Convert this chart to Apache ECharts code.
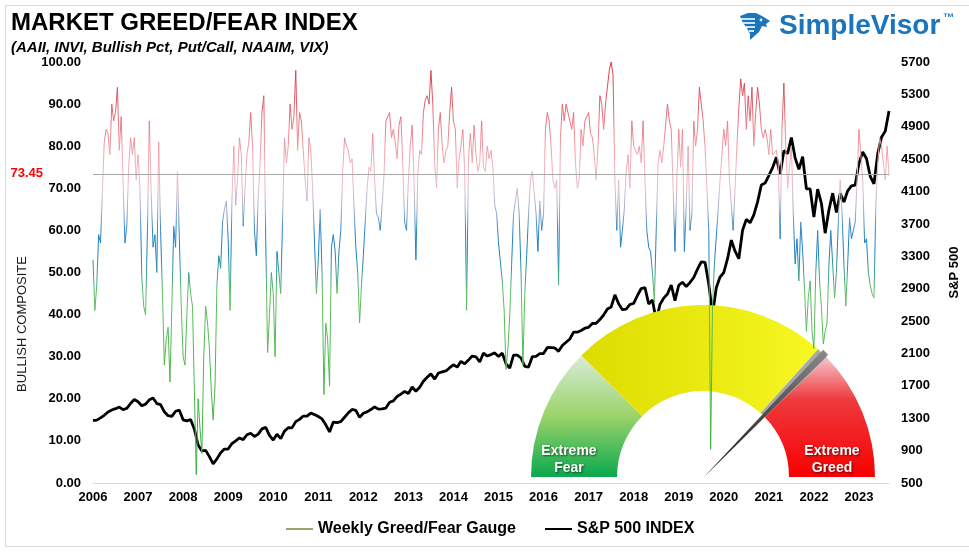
<!DOCTYPE html>
<html>
<head>
<meta charset="utf-8">
<title>Market Greed/Fear Index</title>
<script src="https://cdn.jsdelivr.net/npm/echarts@6/dist/echarts.min.js"></script>
<style>
  html, body { margin: 0; padding: 0; background: #fff; }
  #chart { width: 969px; height: 555px; }
</style>
</head>
<body>
<div id="chart"></div>
<script>
// x values are months counted from July 2006 (first reading), labels every 12 months
var yearLabels = ['2006', '2007', '2008', '2009', '2010', '2011', '2012', '2013', '2014',
  '2015', '2016', '2017', '2018', '2019', '2020', '2021', '2022', '2023']

// bullish composite, two readings per month from Jul 2006
var greedGauge = [
  53, 41, 47, 59, 57, 69, 81, 84, 83, 78, 90, 86,
  88, 94, 79, 87, 72, 57, 61, 75, 82, 78, 82, 72,
  78, 70, 49, 42, 40, 60, 86, 69, 56, 59, 50, 81,
  60, 45, 28, 34, 37, 24, 42, 61, 56, 74, 58, 42,
  30, 28, 40, 50, 45, 42, 22, 2, 20, 13, 7, 30,
  42, 38, 32, 22, 15, 23, 47, 54, 51, 62, 65, 67,
  58, 41, 67, 80, 66, 72, 82, 78, 61, 70, 78, 81,
  88, 80, 60, 54, 68, 76, 88, 92, 58, 31, 40, 50,
  45, 30, 55, 55, 45, 63, 82, 76, 80, 90, 84, 87,
  98, 79, 88, 86, 79, 72, 67, 82, 79, 70, 57, 45,
  53, 65, 50, 21, 38, 34, 23, 56, 59, 55, 45, 55,
  60, 74, 82, 80, 79, 76, 77, 66, 56, 50, 38, 47,
  54, 62, 70, 75, 74, 83, 72, 64, 63, 60, 66, 73,
  86, 86, 88, 82, 84, 81, 77, 85, 87, 76, 62, 60,
  72, 80, 85, 72, 53, 73, 79, 78, 88, 91, 92, 90,
  98, 90, 76, 70, 84, 88, 80, 76, 79, 80, 88, 94,
  86, 84, 70, 77, 80, 84, 74, 41, 77, 83, 76, 85,
  78, 74, 76, 86, 75, 74, 80, 77, 79, 75, 66, 64,
  57, 57, 48, 41, 27, 32, 40, 52, 64, 67, 70, 64,
  50, 28, 45, 54, 64, 72, 74, 69, 64, 55, 67, 60,
  64, 84, 88, 86, 80, 72, 70, 72, 47, 82, 90, 86,
  90, 88, 86, 84, 88, 76, 70, 72, 84, 80, 86, 86,
  88, 83, 82, 78, 72, 80, 92, 90, 84, 90, 90, 98,
  100, 97, 72, 60, 72, 56, 60, 65, 74, 78, 70, 86,
  80, 80, 78, 80, 76, 86, 72, 60, 56, 55, 50, 43,
  60, 76, 79, 76, 80, 80, 90, 86, 84, 70, 55, 72,
  84, 75, 84, 55, 66, 80, 60, 64, 86, 80, 84, 94,
  90, 86, 80, 70, 60, 8, 42, 52, 52, 65, 72, 78,
  84, 80, 86, 72, 66, 60, 70, 80, 89, 96, 92, 95,
  84, 92, 86, 94, 80, 88, 94, 90, 84, 82, 84, 82,
  78, 84, 78, 78, 79, 76, 58, 84, 95, 80, 70, 70,
  80, 64, 52, 58, 48, 62, 55, 46, 36, 44, 48, 36,
  32, 50, 60, 48, 42, 33, 36, 38, 52, 60, 52, 44,
  50, 62, 72, 64, 52, 42, 52, 63, 58, 60, 62, 72,
  84, 78, 72, 57, 58, 50, 47, 45, 44, 66, 76, 82,
  80, 80, 72, 80, 73
]

// S&P 500, one level per month from Jul 2006
var spx = [
  1270, 1277, 1304, 1336, 1378, 1401, 1418,
  1438, 1407, 1421, 1482, 1531, 1503, 1455, 1474, 1527, 1549, 1481, 1468,
  1379, 1331, 1323, 1386, 1400, 1280, 1267, 1283, 1165, 969, 896, 903,
  826, 735, 798, 873, 919, 919, 987, 1021, 1057, 1036, 1096, 1115,
  1074, 1104, 1169, 1187, 1089, 1031, 1102, 1049, 1141, 1183, 1181, 1258,
  1286, 1327, 1326, 1364, 1345, 1321, 1292, 1219, 1131, 1253, 1247, 1258,
  1312, 1366, 1408, 1398, 1310, 1362, 1379, 1407, 1441, 1412, 1416, 1426,
  1498, 1515, 1569, 1598, 1631, 1606, 1686, 1633, 1682, 1757, 1806, 1848,
  1783, 1859, 1872, 1884, 1924, 1960, 1931, 2003, 1972, 2018, 2068, 2059,
  1995, 2105, 2068, 2086, 2107, 2063, 2104, 1972, 1920, 2079, 2080, 2044,
  1940, 1932, 2060, 2065, 2097, 2099, 2174, 2171, 2168, 2126, 2199, 2239,
  2279, 2364, 2363, 2384, 2412, 2423, 2470, 2472, 2519, 2575, 2648, 2674,
  2824, 2714, 2641, 2648, 2705, 2718, 2816, 2902, 2914, 2712, 2760, 2507,
  2704, 2784, 2834, 2946, 2752, 2942, 2980, 2926, 2977, 3038, 3141, 3231,
  3226, 2954, 2585, 2912, 3044, 3100, 3271, 3500, 3363, 3270, 3622, 3756,
  3714, 3811, 3973, 4181, 4204, 4298, 4395, 4523, 4308, 4605, 4567, 4766,
  4516, 4374, 4530, 4132, 4132, 3785, 4130, 3955, 3586, 3872, 4080, 3840,
  4077, 3970, 4109, 4169, 4180, 4450, 4589, 4508, 4288, 4194, 4568, 4770,
  4846, 5096
]

var latestReading = 73.45

var FONT = 'Arial, "Liberation Sans", sans-serif'

function toPairs(values, step) {
  return values.map(function (v, i) {
    return [i * step, v]
  })
}

// gauge picture in the lower right corner
var gx = 703
var gy = 477
var rIn = 86
var rOut = 172
var deg = Math.PI / 180
var needleAngle = 45.5 * deg

function needlePoints() {
  var dx = Math.cos(needleAngle)
  var dy = -Math.sin(needleAngle)
  var len = rOut + 3
  var ex = gx + dx * len
  var ey = gy + dy * len
  var px = -dy * 3.5
  var py = dx * 3.5
  return [[gx, gy + 1], [ex + px, ey + py], [ex - px, ey - py]]
}

function logoStripe(x1, y1, x2, y2) {
  return { type: 'line', shape: { x1: x1, y1: y1, x2: x2, y2: y2 }, style: { stroke: '#fff', lineWidth: 1.6 } }
}

var chart = echarts.init(document.getElementById('chart'))
chart.setOption({
  animation: false,
  backgroundColor: '#fff',
  title: {
    text: 'MARKET GREED/FEAR INDEX',
    subtext: '(AAII, INVI, Bullish Pct, Put/Call, NAAIM, VIX)',
    left: 6,
    top: 5,
    itemGap: 3,
    textStyle: { fontFamily: FONT, fontSize: 24, fontWeight: 'bold', color: '#000', lineHeight: 26 },
    subtextStyle: { fontFamily: FONT, fontSize: 15, fontWeight: 'bold', fontStyle: 'italic', color: '#000', lineHeight: 17 }
  },
  legend: {
    left: 281,
    top: 516,
    itemWidth: 27,
    itemHeight: 2,
    itemGap: 29,
    icon: 'rect',
    selectedMode: false,
    textStyle: { fontFamily: FONT, fontSize: 16, fontWeight: 'bold', color: '#000' },
    data: [
      { name: 'Weekly Greed/Fear Gauge', itemStyle: { color: '#a0a070' } },
      { name: 'S&P 500 INDEX', itemStyle: { color: '#000' } }
    ]
  },
  grid: {
    left: 93,
    right: 73,
    top: 62,
    bottom: 72
  },
  visualMap: {
    type: 'continuous',
    show: false,
    seriesIndex: 0,
    dimension: 1,
    min: 0,
    max: 100,
    inRange: {
      color: ['#3cb043', '#3cb043', '#40b246', '#44b448', '#48b64a', '#4cb84c', '#50b850',
        '#56ba56', '#5cbc5a', '#62be64', '#3aa08a', '#1a7fc4', '#2d86c6', '#9eaed0',
        '#e6bcc6', '#f4b2ba', '#f09aa2', '#ea7c86', '#e2606c', '#dc4a58', '#d83a4a']
    }
  },
  xAxis: {
    type: 'value',
    min: 0,
    max: 212,
    interval: 12,
    axisLine: { lineStyle: { color: '#d9d9d9', width: 1 } },
    axisTick: { show: false },
    splitLine: { show: false },
    axisLabel: {
      showMaxLabel: false,
      margin: 8,
      fontFamily: FONT,
      fontSize: 13,
      fontWeight: 'bold',
      color: '#000',
      formatter: function (v) {
        return v % 12 === 0 ? yearLabels[v / 12] : ''
      }
    }
  },
  yAxis: [
    {
      type: 'value',
      min: 0,
      max: 100,
      interval: 10,
      axisLine: { show: false },
      axisTick: { show: false },
      splitLine: { show: false },
      axisLabel: {
        margin: 12,
        fontFamily: FONT,
        fontSize: 13,
        fontWeight: 'bold',
        color: '#000',
        formatter: function (v) {
          return v.toFixed(2)
        }
      }
    },
    {
      type: 'value',
      min: 500,
      max: 5700,
      interval: 400,
      position: 'right',
      name: 'S&P 500',
      nameLocation: 'middle',
      nameRotate: 90,
      nameGap: 59,
      nameTextStyle: { fontFamily: FONT, fontSize: 13, fontWeight: 'bold', color: '#000' },
      axisLine: { show: false },
      axisTick: { show: false },
      splitLine: { show: false },
      axisLabel: {
        margin: 12,
        fontFamily: FONT,
        fontSize: 13,
        fontWeight: 'bold',
        color: '#000',
        formatter: function (v) {
          return String(v)
        }
      }
    }
  ],
  series: [
    {
      name: 'Weekly Greed/Fear Gauge',
      type: 'line',
      z: 4,
      yAxisIndex: 0,
      showSymbol: false,
      symbol: 'none',
      lineStyle: { width: 1 },
      data: toPairs(greedGauge, 0.5),
      markLine: {
        silent: true,
        symbol: 'none',
        lineStyle: { color: '#a6a6a6', width: 1, type: 'solid' },
        label: {
          show: true,
          position: 'start',
          distance: 50,
          formatter: latestReading.toFixed(2),
          fontFamily: FONT,
          fontSize: 13,
          fontWeight: 'bold',
          color: '#ff0000'
        },
        data: [{ yAxis: latestReading }]
      }
    },
    {
      name: 'S&P 500 INDEX',
      type: 'line',
      z: 2,
      yAxisIndex: 1,
      showSymbol: false,
      symbol: 'none',
      lineStyle: { width: 2.8, color: '#000' },
      itemStyle: { color: '#000' },
      data: toPairs(spx, 1)
    }
  ],
  graphic: [
    {
      type: 'rect',
      z: 0,
      silent: true,
      shape: { x: 5.5, y: 5.5, width: 980, height: 541 },
      style: { fill: 'none', stroke: '#d9d9d9', lineWidth: 1 }
    },
    {
      type: 'text',
      x: 22,
      y: 324,
      rotation: Math.PI / 2,
      style: { text: 'BULLISH COMPOSITE', fontFamily: FONT, fontSize: 13, fill: '#1a1a1a', align: 'center', verticalAlign: 'middle' }
    },
    {
      type: 'sector',
      z: 3,
      silent: true,
      shape: { cx: gx, cy: gy, r0: rIn, r: rOut, startAngle: 180 * deg, endAngle: 225 * deg, clockwise: true },
      style: {
        fill: new echarts.graphic.LinearGradient(0, 0, 0, 1, [
          { offset: 0, color: '#d8ecd8' },
          { offset: 0.5, color: '#9bd36a' },
          { offset: 1, color: '#0aa84f' }
        ])
      }
    },
    {
      type: 'sector',
      z: 3,
      silent: true,
      shape: { cx: gx, cy: gy, r0: rIn, r: rOut, startAngle: 225 * deg, endAngle: 312 * deg, clockwise: true },
      style: {
        fill: new echarts.graphic.LinearGradient(0, 0, 1, 0, [
          { offset: 0, color: '#dcdc00' },
          { offset: 1, color: '#f7f722' }
        ])
      }
    },
    {
      type: 'sector',
      z: 3,
      silent: true,
      shape: { cx: gx, cy: gy, r0: rIn, r: rOut, startAngle: 312 * deg, endAngle: 316 * deg, clockwise: true },
      style: { fill: '#a8a8a8' }
    },
    {
      type: 'sector',
      z: 3,
      silent: true,
      shape: { cx: gx, cy: gy, r0: rIn, r: rOut, startAngle: 316 * deg, endAngle: 360 * deg, clockwise: true },
      style: {
        fill: new echarts.graphic.LinearGradient(0, 0, 0, 1, [
          { offset: 0, color: '#f6c4c8' },
          { offset: 0.35, color: '#ee3a3e' },
          { offset: 1, color: '#f80000' }
        ])
      }
    },
    {
      type: 'polygon',
      z: 3,
      silent: true,
      shape: { points: needlePoints() },
      style: {
        fill: new echarts.graphic.LinearGradient(0, 1, 1, 0, [
          { offset: 0, color: '#111' },
          { offset: 1, color: '#8a8a8a' }
        ])
      }
    },
    {
      type: 'text',
      z: 3,
      x: 569,
      y: 460,
      style: {
        text: 'Extreme\nFear', fontFamily: FONT, fontSize: 14, fontWeight: 'bold', lineHeight: 17,
        fill: '#fff', align: 'center', verticalAlign: 'middle',
        textShadowColor: 'rgba(0,0,0,0.6)', textShadowBlur: 2, textShadowOffsetX: 1, textShadowOffsetY: 1
      }
    },
    {
      type: 'text',
      z: 3,
      x: 832,
      y: 460,
      style: {
        text: 'Extreme\nGreed', fontFamily: FONT, fontSize: 14, fontWeight: 'bold', lineHeight: 17,
        fill: '#fff', align: 'center', verticalAlign: 'middle',
        textShadowColor: 'rgba(0,0,0,0.6)', textShadowBlur: 2, textShadowOffsetX: 1, textShadowOffsetY: 1
      }
    },
    // SimpleVisor logo
    {
      type: 'group',
      x: 740,
      y: 12,
      children: [
        {
          type: 'polygon',
          shape: { points: [[0, 4], [8, 1], [16, 1], [22, 4], [30, 9], [26, 12], [27, 15], [22, 14], [19, 20], [10, 28], [10, 22], [7, 16], [3, 11]] },
          style: { fill: '#1b75bc' }
        },
        logoStripe(1, 7, 15, 7),
        logoStripe(3, 11, 15, 11),
        logoStripe(6, 15, 15, 15),
        logoStripe(9, 19, 14, 19),
        { type: 'circle', shape: { cx: 21, cy: 8, r: 1.4 }, style: { fill: '#fff' } }
      ]
    },
    {
      type: 'text',
      x: 779,
      y: 26,
      style: { text: 'SimpleVisor', fontFamily: FONT, fontSize: 28, fontWeight: 'bold', fill: '#1b75bc', verticalAlign: 'middle' }
    },
    {
      type: 'text',
      x: 943,
      y: 18,
      style: { text: '\u2122', fontFamily: FONT, fontSize: 11, fontWeight: 'bold', fill: '#1b75bc', verticalAlign: 'middle' }
    }
  ]
})
</script>
</body>
</html>
